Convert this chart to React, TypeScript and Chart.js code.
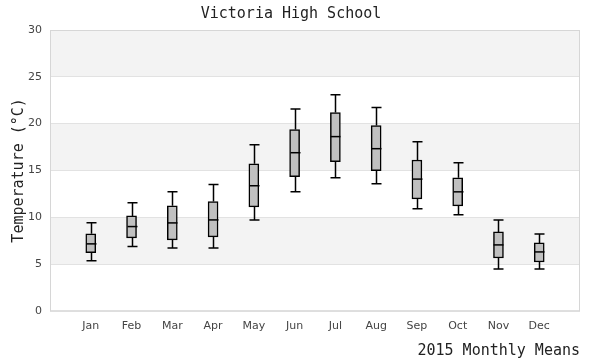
import React, { useEffect, useRef } from "react";
import { Chart, registerables } from "chart.js";

Chart.register(...registerables);

const months = ["Jan", "Feb", "Mar", "Apr", "May", "Jun", "Jul", "Aug", "Sep", "Oct", "Nov", "Dec"];
const whiskerLow = [5.36, 6.86, 6.71, 6.71, 9.71, 12.71, 14.21, 13.57, 10.89, 10.25, 4.46, 4.46];
const q1 = [6.21, 7.79, 7.57, 7.89, 11.11, 14.32, 15.93, 14.96, 11.96, 11.21, 5.64, 5.21];
const median = [7.15, 9.0, 9.39, 9.71, 13.36, 16.89, 18.61, 17.32, 14.07, 12.71, 7.04, 6.29];
const q3 = [8.22, 10.14, 11.21, 11.68, 15.71, 19.36, 21.18, 19.79, 16.11, 14.21, 8.43, 7.25];
const whiskerHigh = [9.41, 11.54, 12.71, 13.5, 17.75, 21.57, 23.07, 21.71, 18.07, 15.82, 9.71, 8.21];
const bandStarts = [5, 15, 25];

const MONO = "'DejaVu Sans Mono', monospace";
const SANS = "'DejaVu Sans', sans-serif";

const bandsPlugin = {
  id: "bands",
  beforeDraw(chart: any) {
    const { ctx, chartArea, scales } = chart;
    const y = scales.y;
    ctx.save();
    ctx.fillStyle = "#f3f3f3";
    bandStarts.forEach((b) => {
      const top = y.getPixelForValue(b + 5);
      const bot = y.getPixelForValue(b);
      ctx.fillRect(chartArea.left, top, chartArea.right - chartArea.left, bot - top);
    });
    ctx.restore();
  },
  afterDraw(chart: any) {
    const { ctx, chartArea } = chart;
    ctx.save();
    ctx.strokeStyle = "#d6d6d6";
    ctx.lineWidth = 1;
    ctx.strokeRect(chartArea.left + 0.5, chartArea.top + 0.5, chartArea.right - chartArea.left - 1, chartArea.bottom - chartArea.top);
    ctx.restore();
  },
};

const boxPlugin = {
  id: "boxParts",
  beforeDatasetsDraw(chart: any) {
    const { ctx, scales } = chart;
    const x = scales.x;
    const y = scales.y;
    const half = 5;
    ctx.save();
    ctx.strokeStyle = "#000";
    ctx.lineWidth = 1.5;
    months.forEach((_, i) => {
      const px = Math.round(x.getPixelForValue(i + 1)) + 0.5;
      const yl = y.getPixelForValue(whiskerLow[i]);
      const yh = y.getPixelForValue(whiskerHigh[i]);
      const y1 = y.getPixelForValue(q1[i]);
      const y3 = y.getPixelForValue(q3[i]);
      ctx.beginPath();
      ctx.moveTo(px, y3);
      ctx.lineTo(px, yh);
      ctx.moveTo(px - half, yh);
      ctx.lineTo(px + half, yh);
      ctx.moveTo(px, y1);
      ctx.lineTo(px, yl);
      ctx.moveTo(px - half, yl);
      ctx.lineTo(px + half, yl);
      ctx.stroke();
    });
    ctx.restore();
  },
  afterDatasetsDraw(chart: any) {
    const { ctx, scales } = chart;
    const x = scales.x;
    const y = scales.y;
    const half = 5;
    ctx.save();
    ctx.strokeStyle = "#000";
    ctx.lineWidth = 1.5;
    months.forEach((_, i) => {
      const px = Math.round(x.getPixelForValue(i + 1)) + 0.5;
      const ym = y.getPixelForValue(median[i]);
      ctx.beginPath();
      ctx.moveTo(px - half, ym);
      ctx.lineTo(px + half, ym);
      ctx.stroke();
    });
    ctx.restore();
  },
};

export default function App() {
  const ref = useRef<HTMLCanvasElement>(null);
  useEffect(() => {
    document.body.style.margin = "0";
    const labels = ["", ...months, ""];
    const boxes: any[] = [null, ...months.map((_, i) => [q1[i], q3[i]]), null];
    const chart = new Chart(ref.current!, {
      type: "bar",
      data: {
        labels,
        datasets: [
          {
            data: boxes,
            backgroundColor: "#c0c0c0",
            borderColor: "#000",
            borderWidth: 1.5,
            borderSkipped: false,
            barThickness: 10,
          },
        ],
      },
      options: {
        animation: false,
        responsive: false,
        maintainAspectRatio: false,
        layout: { padding: { top: 3, right: 20, left: 2, bottom: 0 } },
        plugins: {
          legend: { display: false },
          tooltip: { enabled: false },
          title: {
            display: true,
            text: "Victoria High School",
            color: "#222",
            font: { family: MONO, size: 15, weight: "normal" },
            padding: { top: 2, bottom: 7 },
          },
        },
        scales: {
          x: {
            type: "category",
            offset: false,
            grid: { display: false, drawTicks: false },
            border: { display: false },
            ticks: {
              autoSkip: false,
              maxRotation: 0,
              color: "#444",
              font: { family: SANS, size: 11 },
              padding: 9,
            },
            title: {
              display: true,
              text: "2015 Monthly Means",
              align: "end",
              color: "#222",
              font: { family: MONO, size: 15, weight: "normal" },
              padding: { top: 0, bottom: 0 },
            },
          },
          y: {
            min: 0,
            max: 30,
            grid: { color: "#e2e2e2", drawTicks: false },
            border: { display: false },
            ticks: {
              stepSize: 5,
              color: "#444",
              font: { family: SANS, size: 11 },
              padding: 8,
            },
            title: {
              display: true,
              text: "Temperature (°C)",
              color: "#222",
              font: { family: MONO, size: 15, weight: "normal" },
              padding: { top: 8, bottom: -8 },
            },
          },
        },
      },
      plugins: [bandsPlugin, boxPlugin],
    });
    return () => chart.destroy();
  }, []);
  return (
    <div style={{ width: 600, height: 360 }}>
      <canvas ref={ref} width={600} height={360} style={{ display: "block" }} />
    </div>
  );
}
